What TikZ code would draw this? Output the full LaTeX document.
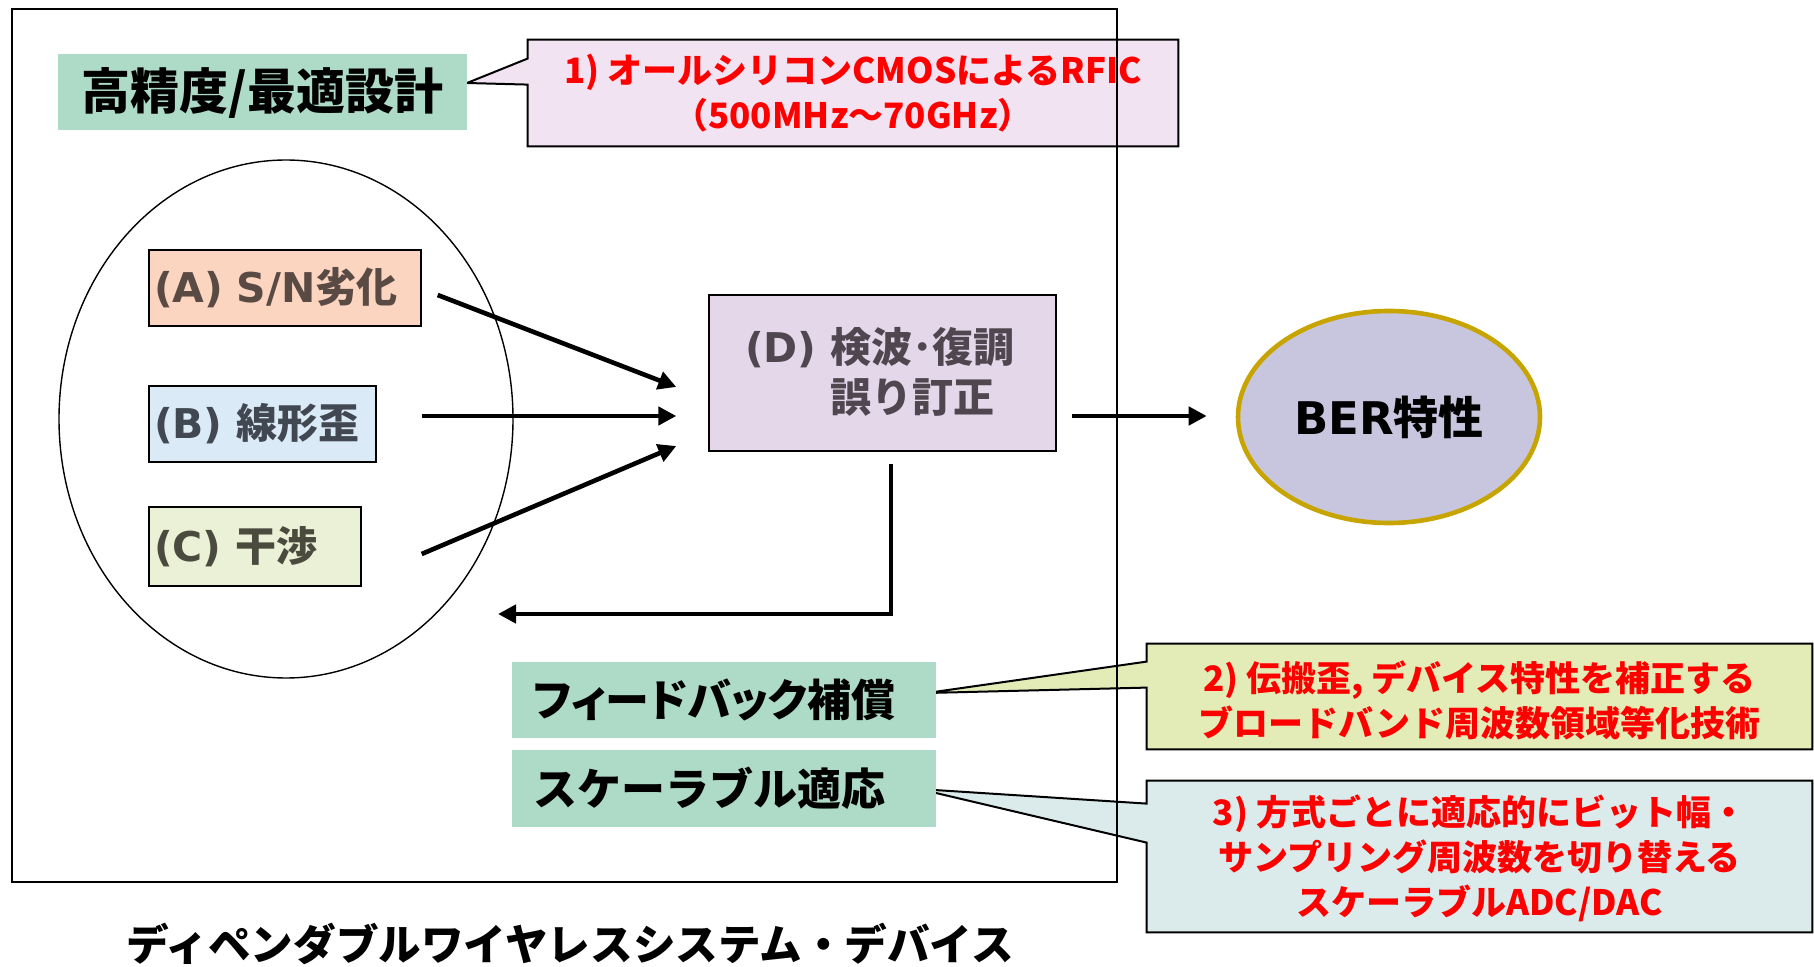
\documentclass[tikz,border=0pt]{standalone}
\usepackage{fontspec}
\newfontfamily\jp{Noto Sans CJK JP}
\newfontfamily\jpp{Noto Sans CJK JP}[RawFeature=+palt]
\newfontfamily\dv{DejaVu Sans}
\usetikzlibrary{arrows.meta,shapes.geometric,calc}
\pgfdeclarelayer{bg}
\pgfsetlayers{bg,main}
\newcommand{\mylat}[1]{{\dv\bfseries #1}}
\newcommand{\myja}[1]{{\jp\bfseries #1}}
\definecolor{greenbox}{HTML}{ADDBC8}
\definecolor{peach}{HTML}{FCD5C0}
\definecolor{lblue}{HTML}{DAEAF7}
\definecolor{lgreen}{HTML}{EBF1D6}
\definecolor{lilac}{HTML}{E5D7EA}
\definecolor{cpink}{HTML}{F2E3F2}
\definecolor{cyel}{HTML}{E3EBB6}
\definecolor{ccyan}{HTML}{DBEBEB}
\definecolor{berfill}{HTML}{C8C6DE}
\definecolor{gold}{HTML}{C8A400}
\definecolor{textA}{HTML}{5A4A44}
\definecolor{textB}{HTML}{414851}
\definecolor{textC}{HTML}{4A4A3E}
\definecolor{textD}{HTML}{4F4650}
\begin{document}
\begin{tikzpicture}[x=0.5pt,y=-0.5pt,
  arr/.style={line width=2.3pt,-{Triangle[length=9pt,width=9pt]}},
  fbox/.style={draw=black,line width=0.7pt,inner ysep=0pt,inner xsep=2.5pt,align=left,
    font=\fontsize{20.5pt}{24pt}\selectfont},
  gbox/.style={fill=greenbox,inner ysep=0pt,minimum height=38pt},
  calltext/.style={inner sep=0pt,align=center,text=red,
    font=\jp\bfseries\fontsize{17.5pt}{22.5pt}\selectfont},
  call/.style={draw=black,line width=1pt}]
\useasboundingbox (0,0) rectangle (1814,967);

% title box
\node[gbox,minimum width=204.5pt,font=\jp\bfseries\fontsize{24.5pt}{28pt}\selectfont]
  (title) at (262.5,92.5) {高精度/最適設計};

% callout 1
\node[calltext,minimum width=325pt,minimum height=53pt] (c1) at (853,93)
  {1) オールシリコンCMOSによるRFIC\\（500MHz～70GHz）};
\coordinate (t1) at (467,83);
\begin{pgfonlayer}{bg}
\draw[call,fill=cpink] (c1.north west) -- (c1.north east) -- (c1.south east) -- (c1.south west)
  -- ($(c1.north west)+(0,45)$) -- (t1) -- ($(c1.north west)+(0,19)$) -- cycle;
\end{pgfonlayer}

% big ellipse
\node[draw=black,line width=0.7pt,ellipse,minimum width=227pt,minimum height=259pt,inner sep=0pt]
  (ell) at (286,419) {};

% A B C boxes
\node[fbox,fill=peach,text=textA,minimum height=38pt,text width=131pt] (A) at (285,288)
  {\mylat{(A) S/N}\myja{劣化}};
\node[fbox,fill=lblue,text=textB,minimum height=38pt,text width=108.5pt] (B) at (262.5,424)
  {\mylat{(B)} \myja{線形歪}};
\node[fbox,fill=lgreen,text=textC,minimum height=39.5pt,text width=101pt] (C) at (255,546.5)
  {\mylat{(C)} \myja{干渉}};

% D box
\node[draw=black,line width=0.7pt,fill=lilac,text=textD,inner xsep=18pt,inner ysep=0pt,
  minimum height=78pt,text width=137.5pt,align=left,
  font=\fontsize{20.5pt}{25pt}\selectfont] (D) at (882.5,373)
  {\mylat{(D)} \myja{検波･復調}\\\phantom{\mylat{(D)} }\myja{誤り訂正}};

% BER ellipse
\node[ellipse,draw=gold,line width=2.3pt,fill=berfill,minimum width=151pt,minimum height=106pt,
  inner sep=0pt,font=\fontsize{22.5pt}{26pt}\selectfont] (ber) at (1389,417)
  {\mylat{BER}\myja{特性}};

% arrows
\draw[arr] ($(A.east)+(16,7)$) -- ($(D.west)+(-32,14)$);
\draw[arr] ($(B.east)+(45,-8)$) -- ($(D.west)+(-32,43)$);
\draw[arr] ($(C.east)+(60,7.5)$) -- ($(D.west)+(-32,73)$);
\draw[arr] ($(D.east)+(15,43)$) -- ($(ber.west)+(-29,-1)$);
\coordinate (fbtip) at (498,614);
\draw[arr] ($(D.south)+(8.5,12)$) |- (fbtip);

% green boxes bottom
\node[gbox,minimum width=212pt,minimum height=38pt,inner xsep=10.5pt,text width=191pt,align=left,
  font=\jpp\bfseries\fontsize{22pt}{25pt}\selectfont] (fb) at (724,700) {フィードバック補償};
\node[gbox,minimum width=212pt,minimum height=38.5pt,inner xsep=10.5pt,text width=191pt,align=left,
  font=\jp\bfseries\fontsize{22pt}{25pt}\selectfont] (sc) at (724,788.5) {スケーラブル適応};

% callout 2
\node[calltext,minimum width=332.5pt,minimum height=52.5pt] (c2) at (1479.5,700)
  {2) 伝搬歪, デバイス特性を補正する\\ブロードバンド周波数領域等化技術};
\coordinate (t2) at (927,693);
\begin{pgfonlayer}{bg}
\draw[call,fill=cyel] ($(c2.north west)+(0,-3.5)$) -- ($(c2.north east)+(0,-3.5)$) -- ($(c2.south east)+(0,-3.5)$) -- ($(c2.south west)+(0,-3.5)$)
  -- ($(c2.north west)+(0,40.5)$) -- (t2) -- ($(c2.north west)+(0,14.5)$) -- cycle;
\end{pgfonlayer}

% callout 3
\node[calltext,minimum width=332.5pt,minimum height=75.5pt] (c3) at (1479.5,858)
  {3) 方式ごとに適応的にビット幅・\\サンプリング周波数を切り替える\\スケーラブルADC/DAC};
\coordinate (t3) at (919,789);
\begin{pgfonlayer}{bg}
\draw[call,fill=ccyan] ($(c3.north west)+(0,-1.5)$) -- ($(c3.north east)+(0,-1.5)$) -- ($(c3.south east)+(0,-1.5)$) -- ($(c3.south west)+(0,-1.5)$)
  -- ($(c3.north west)+(0,60.5)$) -- (t3) -- ($(c3.north west)+(0,21.5)$) -- cycle;
\end{pgfonlayer}

% outer frame
\node[draw=black,line width=0.6pt,minimum width=552.5pt,minimum height=436.5pt,inner sep=0pt]
  (frame) at (564.5,445.5) {};

% bottom caption
\node[inner sep=0pt,font=\jp\bfseries\fontsize{21.3pt}{25pt}\selectfont] (cap) at (570,944)
  {ディペンダブルワイヤレスシステム・デバイス};
\end{tikzpicture}
\end{document}
